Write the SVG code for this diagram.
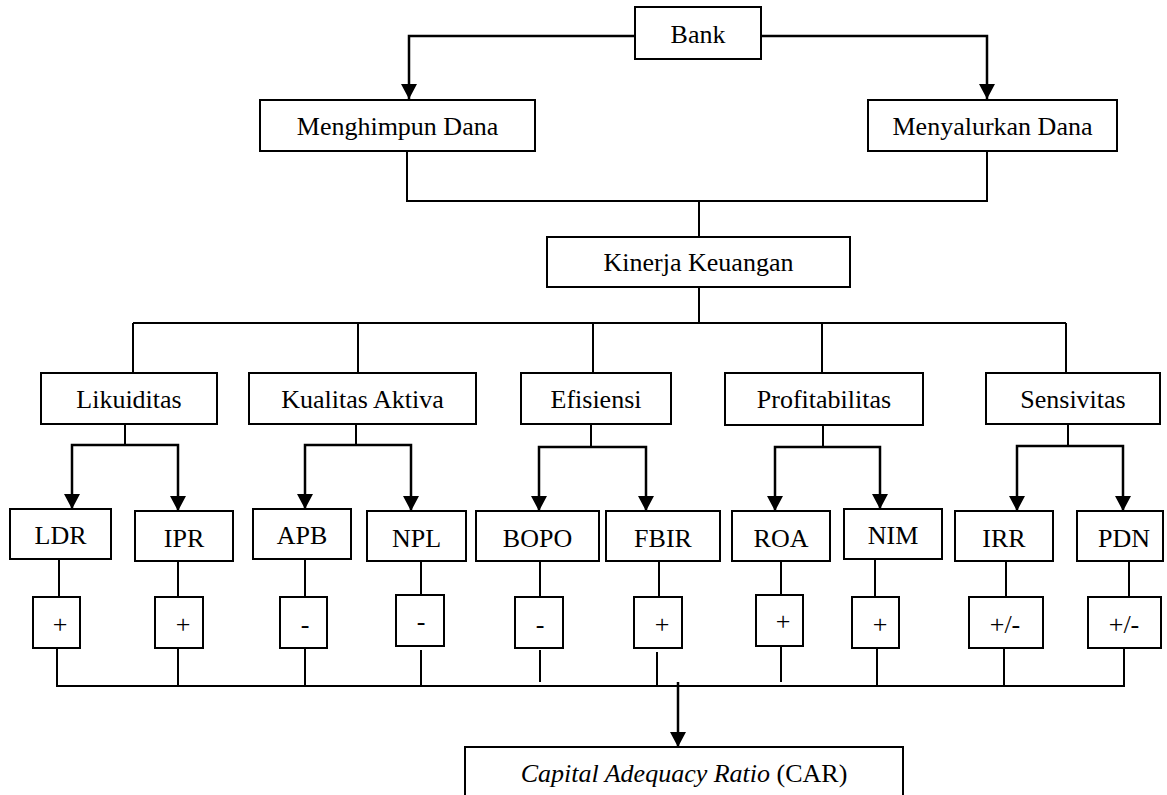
<svg xmlns="http://www.w3.org/2000/svg" width="1167" height="795" viewBox="0 0 1167 795">
<style>
.box{fill:#fff;stroke:#000;stroke-width:2}
.t{font-family:"Liberation Serif","Times New Roman",serif;font-size:26px;fill:#000;text-anchor:middle}
.ln{fill:none;stroke:#000;stroke-width:2}
.ar{fill:none;stroke:#000;stroke-width:2.5;marker-end:url(#ah)}
</style>
<defs>
<marker id="ah" markerUnits="userSpaceOnUse" markerWidth="16" markerHeight="16" refX="15" refY="8" orient="auto">
<path d="M0,0 L15,8 L0,16 z" fill="#000"/>
</marker>
</defs>
<rect width="1167" height="795" fill="#fff"/>
<g id="connectors">
<polyline class="ar" points="635,36 409,36 409,99"/>
<polyline class="ar" points="761,36 987,36 987,99"/>
<polyline class="ln" points="407,151 407,201 987,201 987,151"/>
<line class="ln" x1="699" y1="201" x2="699" y2="237"/>
<line class="ln" x1="699" y1="287" x2="699" y2="323"/>
<line class="ln" x1="133" y1="323" x2="1066" y2="323"/>
<line class="ln" x1="133" y1="323" x2="133" y2="373"/>
<line class="ln" x1="358" y1="323" x2="358" y2="373"/>
<line class="ln" x1="593" y1="323" x2="593" y2="373"/>
<line class="ln" x1="822" y1="323" x2="822" y2="373"/>
<line class="ln" x1="1066" y1="323" x2="1066" y2="373"/>
<line class="ln" x1="125" y1="424" x2="125" y2="445"/>
<polyline class="ar" points="125,445 72,445 72,509"/>
<polyline class="ar" points="125,445 178,445 178,511"/>
<line class="ln" x1="356" y1="424" x2="356" y2="445"/>
<polyline class="ar" points="356,445 305,445 305,509"/>
<polyline class="ar" points="356,445 411,445 411,511"/>
<line class="ln" x1="591" y1="424" x2="591" y2="447"/>
<polyline class="ar" points="591,447 539,447 539,511"/>
<polyline class="ar" points="591,447 646,447 646,511"/>
<line class="ln" x1="823" y1="425" x2="823" y2="447"/>
<polyline class="ar" points="823,447 775,447 775,511"/>
<polyline class="ar" points="823,447 880,447 880,509"/>
<line class="ln" x1="1068" y1="424" x2="1068" y2="446"/>
<polyline class="ar" points="1068,446 1017,446 1017,511"/>
<polyline class="ar" points="1068,446 1123,446 1123,511"/>
<line class="ln" x1="59" y1="559" x2="59" y2="597"/>
<line class="ln" x1="178" y1="561" x2="178" y2="597"/>
<line class="ln" x1="305" y1="559" x2="305" y2="597"/>
<line class="ln" x1="421" y1="561" x2="421" y2="595"/>
<line class="ln" x1="540" y1="561" x2="540" y2="597"/>
<line class="ln" x1="659" y1="561" x2="659" y2="597"/>
<line class="ln" x1="781" y1="561" x2="781" y2="595"/>
<line class="ln" x1="875" y1="559" x2="875" y2="597"/>
<line class="ln" x1="1006" y1="561" x2="1006" y2="597"/>
<line class="ln" x1="1129" y1="561" x2="1129" y2="597"/>
<line class="ln" x1="57" y1="648" x2="57" y2="686"/>
<line class="ln" x1="178" y1="648" x2="178" y2="686"/>
<line class="ln" x1="305" y1="648" x2="305" y2="686"/>
<line class="ln" x1="421" y1="650" x2="421" y2="686"/>
<line class="ln" x1="540" y1="650" x2="540" y2="682"/>
<line class="ln" x1="657" y1="652" x2="657" y2="686"/>
<line class="ln" x1="781" y1="646" x2="781" y2="682"/>
<line class="ln" x1="877" y1="648" x2="877" y2="686"/>
<line class="ln" x1="1004" y1="648" x2="1004" y2="686"/>
<line class="ln" x1="1124" y1="648" x2="1124" y2="686"/>
<line class="ln" x1="56" y1="686" x2="1125" y2="686"/>
<line class="ar" x1="678" y1="682" x2="678" y2="747"/>
</g>
<g id="bank"><rect class="box" x="635" y="7" width="126" height="52"/><text class="t" x="698" y="43">Bank</text></g>
<g id="menghimpun"><rect class="box" x="260" y="100" width="275" height="51"/><text class="t" x="397.5" y="135">Menghimpun Dana</text></g>
<g id="menyalurkan"><rect class="box" x="868" y="100" width="249" height="51"/><text class="t" x="992.5" y="135">Menyalurkan Dana</text></g>
<g id="kinerja"><rect class="box" x="547" y="237" width="303" height="50"/><text class="t" x="698.5" y="271">Kinerja Keuangan</text></g>
<g id="likuiditas"><rect class="box" x="41" y="373" width="176" height="51"/><text class="t" x="129" y="408">Likuiditas</text></g>
<g id="kualitas"><rect class="box" x="249" y="373" width="227" height="51"/><text class="t" x="362.5" y="408">Kualitas Aktiva</text></g>
<g id="efisiensi"><rect class="box" x="521" y="373" width="150" height="51"/><text class="t" x="596" y="408">Efisiensi</text></g>
<g id="profitabilitas"><rect class="box" x="725" y="373" width="198" height="52"/><text class="t" x="824" y="408">Profitabilitas</text></g>
<g id="sensivitas"><rect class="box" x="986" y="373" width="174" height="51"/><text class="t" x="1073" y="408">Sensivitas</text></g>
<g id="ldr"><rect class="box" x="10" y="509" width="101" height="50"/><text class="t" x="60.5" y="544">LDR</text></g>
<g id="ipr"><rect class="box" x="135" y="511" width="98" height="50"/><text class="t" x="184" y="547">IPR</text></g>
<g id="apb"><rect class="box" x="253" y="509" width="98" height="50"/><text class="t" x="302" y="544">APB</text></g>
<g id="npl"><rect class="box" x="367" y="511" width="99" height="50"/><text class="t" x="416.5" y="547">NPL</text></g>
<g id="bopo"><rect class="box" x="476" y="511" width="123" height="50"/><text class="t" x="537.5" y="547">BOPO</text></g>
<g id="fbir"><rect class="box" x="606" y="511" width="114" height="50"/><text class="t" x="663" y="547">FBIR</text></g>
<g id="roa"><rect class="box" x="732" y="511" width="98" height="50"/><text class="t" x="781" y="547">ROA</text></g>
<g id="nim"><rect class="box" x="844" y="509" width="98" height="50"/><text class="t" x="893" y="544">NIM</text></g>
<g id="irr"><rect class="box" x="955" y="511" width="98" height="50"/><text class="t" x="1004" y="547">IRR</text></g>
<g id="pdn"><rect class="box" x="1077" y="511" width="86" height="50"/><text class="t" x="1124" y="547">PDN</text></g>
<g id="s-ldr"><rect class="box" x="33" y="597" width="47" height="51"/><text class="t" x="60" y="633">+</text></g>
<g id="s-ipr"><rect class="box" x="155" y="597" width="48" height="51"/><text class="t" x="183" y="633">+</text></g>
<g id="s-apb"><rect class="box" x="280" y="597" width="47" height="51"/><text class="t" x="305" y="633">-</text></g>
<g id="s-npl"><rect class="box" x="396" y="595" width="48" height="51"/><text class="t" x="421" y="630">-</text></g>
<g id="s-bopo"><rect class="box" x="515" y="597" width="48" height="51"/><text class="t" x="540" y="633">-</text></g>
<g id="s-fbir"><rect class="box" x="634" y="597" width="48" height="51"/><text class="t" x="662" y="633">+</text></g>
<g id="s-roa"><rect class="box" x="756" y="595" width="47" height="51"/><text class="t" x="783" y="630">+</text></g>
<g id="s-nim"><rect class="box" x="852" y="597" width="47" height="51"/><text class="t" x="880" y="633">+</text></g>
<g id="s-irr"><rect class="box" x="969" y="597" width="74" height="51"/><text class="t" x="1005" y="633">+/-</text></g>
<g id="s-pdn"><rect class="box" x="1088" y="597" width="73" height="51"/><text class="t" x="1124" y="633">+/-</text></g>
<g id="car"><rect class="box" x="465" y="747" width="438" height="60"/><text class="t" x="684" y="782"><tspan font-style="italic">Capital Adequacy Ratio</tspan> (CAR)</text></g>
</svg>
